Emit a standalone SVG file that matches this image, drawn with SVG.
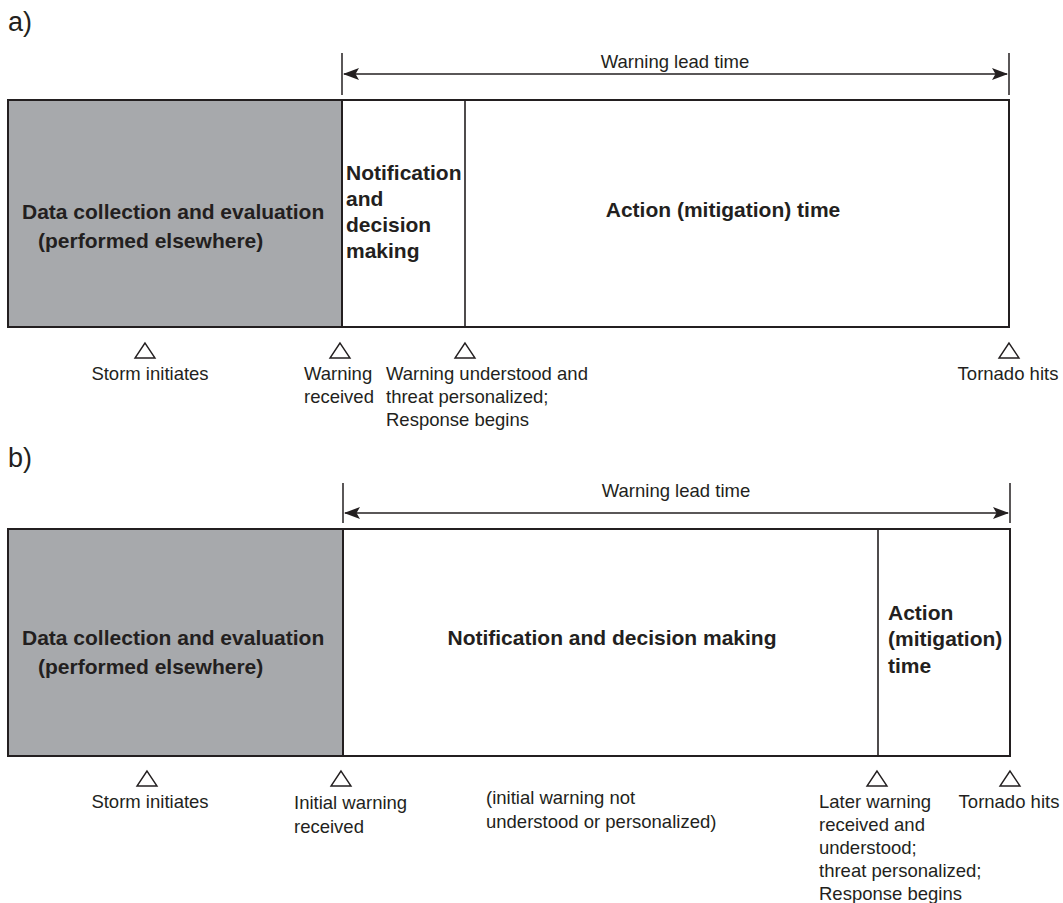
<svg xmlns="http://www.w3.org/2000/svg" width="1063" height="903" viewBox="0 0 1063 903">
<style>
text{font-family:"Liberation Sans",Arial,sans-serif;fill:#231f20}
.lbl{font-size:18.5px}
.b{font-size:21px;font-weight:bold}
.box{fill:#fff;stroke:#231f20;stroke-width:2}
.gray{fill:#a7a9ac;stroke:#231f20;stroke-width:2}
.div{stroke:#231f20;stroke-width:1.6;fill:none}
.tick{stroke:#231f20;stroke-width:1.5}
.tri{fill:none;stroke:#231f20;stroke-width:1.4}
.arr{stroke:#231f20;stroke-width:1.6;marker-start:url(#ah);marker-end:url(#ah)}
</style>
<defs>
<marker id="ah" viewBox="0 0 16 12" refX="15" refY="6" markerWidth="16" markerHeight="12" markerUnits="userSpaceOnUse" orient="auto-start-reverse">
<path d="M0,0 L16,6 L0,12 L3.5,6 Z" fill="#231f20"/>
</marker>
</defs>
<rect width="1063" height="903" fill="#fff"/>
<text x="8" y="31" font-size="27">a)</text>
<text x="8" y="467" font-size="27">b)</text>

<g id="connectors">
<line class="tick" x1="342" y1="53" x2="342" y2="95"/>
<line class="tick" x1="1009" y1="53" x2="1009" y2="95"/>
<line class="arr" x1="344" y1="74" x2="1007" y2="74"/>
<line class="tick" x1="343" y1="483" x2="343" y2="523"/>
<line class="tick" x1="1010" y1="483" x2="1010" y2="523"/>
<line class="arr" x1="345" y1="513" x2="1008" y2="513"/>
</g>
<text class="lbl" x="675" y="68" text-anchor="middle">Warning lead time</text>
<text class="lbl" x="676" y="497" text-anchor="middle">Warning lead time</text>

<g id="panel-a">
<rect class="box" x="8" y="100" width="1001" height="227"/>
<g id="a-data"><rect class="gray" x="8" y="100" width="334" height="227"/>
<text class="b" x="22" y="219">Data collection and evaluation</text>
<text class="b" x="38" y="248">(performed elsewhere)</text></g>
<g id="a-notify"><line class="div" x1="465" y1="100" x2="465" y2="327"/>
<text class="b" x="346" y="180">Notification</text>
<text class="b" x="346" y="206">and</text>
<text class="b" x="346" y="232">decision</text>
<text class="b" x="346" y="258">making</text></g>
<g id="a-action"><text class="b" x="723" y="217" text-anchor="middle">Action (mitigation) time</text></g>
</g>

<g id="a-markers">
<polygon class="tri" points="145,343 135,358 155,358"/>
<text class="lbl" x="150" y="380" text-anchor="middle">Storm initiates</text>
<polygon class="tri" points="340,343 330,358 350,358"/>
<text class="lbl" x="304" y="380">Warning</text>
<text class="lbl" x="304" y="403">received</text>
<polygon class="tri" points="465,343 455,358 475,358"/>
<text class="lbl" x="386" y="380">Warning understood and</text>
<text class="lbl" x="386" y="403">threat personalized;</text>
<text class="lbl" x="386" y="426">Response begins</text>
<polygon class="tri" points="1009,343 999,358 1019,358"/>
<text class="lbl" x="1008" y="380" text-anchor="middle">Tornado hits</text>
</g>

<g id="panel-b">
<rect class="box" x="8" y="529" width="1002" height="227"/>
<g id="b-data"><rect class="gray" x="8" y="529" width="335" height="227"/>
<text class="b" x="22" y="645">Data collection and evaluation</text>
<text class="b" x="38" y="674">(performed elsewhere)</text></g>
<g id="b-notify"><text class="b" x="612" y="645" text-anchor="middle">Notification and decision making</text></g>
<g id="b-action"><line class="div" x1="878" y1="529" x2="878" y2="756"/>
<text class="b" x="888" y="620">Action</text>
<text class="b" x="888" y="646">(mitigation)</text>
<text class="b" x="888" y="673">time</text></g>
</g>

<g id="b-markers">
<polygon class="tri" points="147,771 137,786 157,786"/>
<text class="lbl" x="150" y="808" text-anchor="middle">Storm initiates</text>
<polygon class="tri" points="341,771 331,786 351,786"/>
<text class="lbl" x="294" y="809">Initial warning</text>
<text class="lbl" x="294" y="833">received</text>
<text class="lbl" x="486" y="804">(initial warning not</text>
<text class="lbl" x="486" y="828">understood or personalized)</text>
<polygon class="tri" points="877,771 867,786 887,786"/>
<text class="lbl" x="819" y="808">Later warning</text>
<text class="lbl" x="819" y="831">received and</text>
<text class="lbl" x="819" y="854">understood;</text>
<text class="lbl" x="819" y="877">threat personalized;</text>
<text class="lbl" x="819" y="900">Response begins</text>
<polygon class="tri" points="1010,771 1000,786 1020,786"/>
<text class="lbl" x="1009" y="808" text-anchor="middle">Tornado hits</text>
</g>
</svg>
